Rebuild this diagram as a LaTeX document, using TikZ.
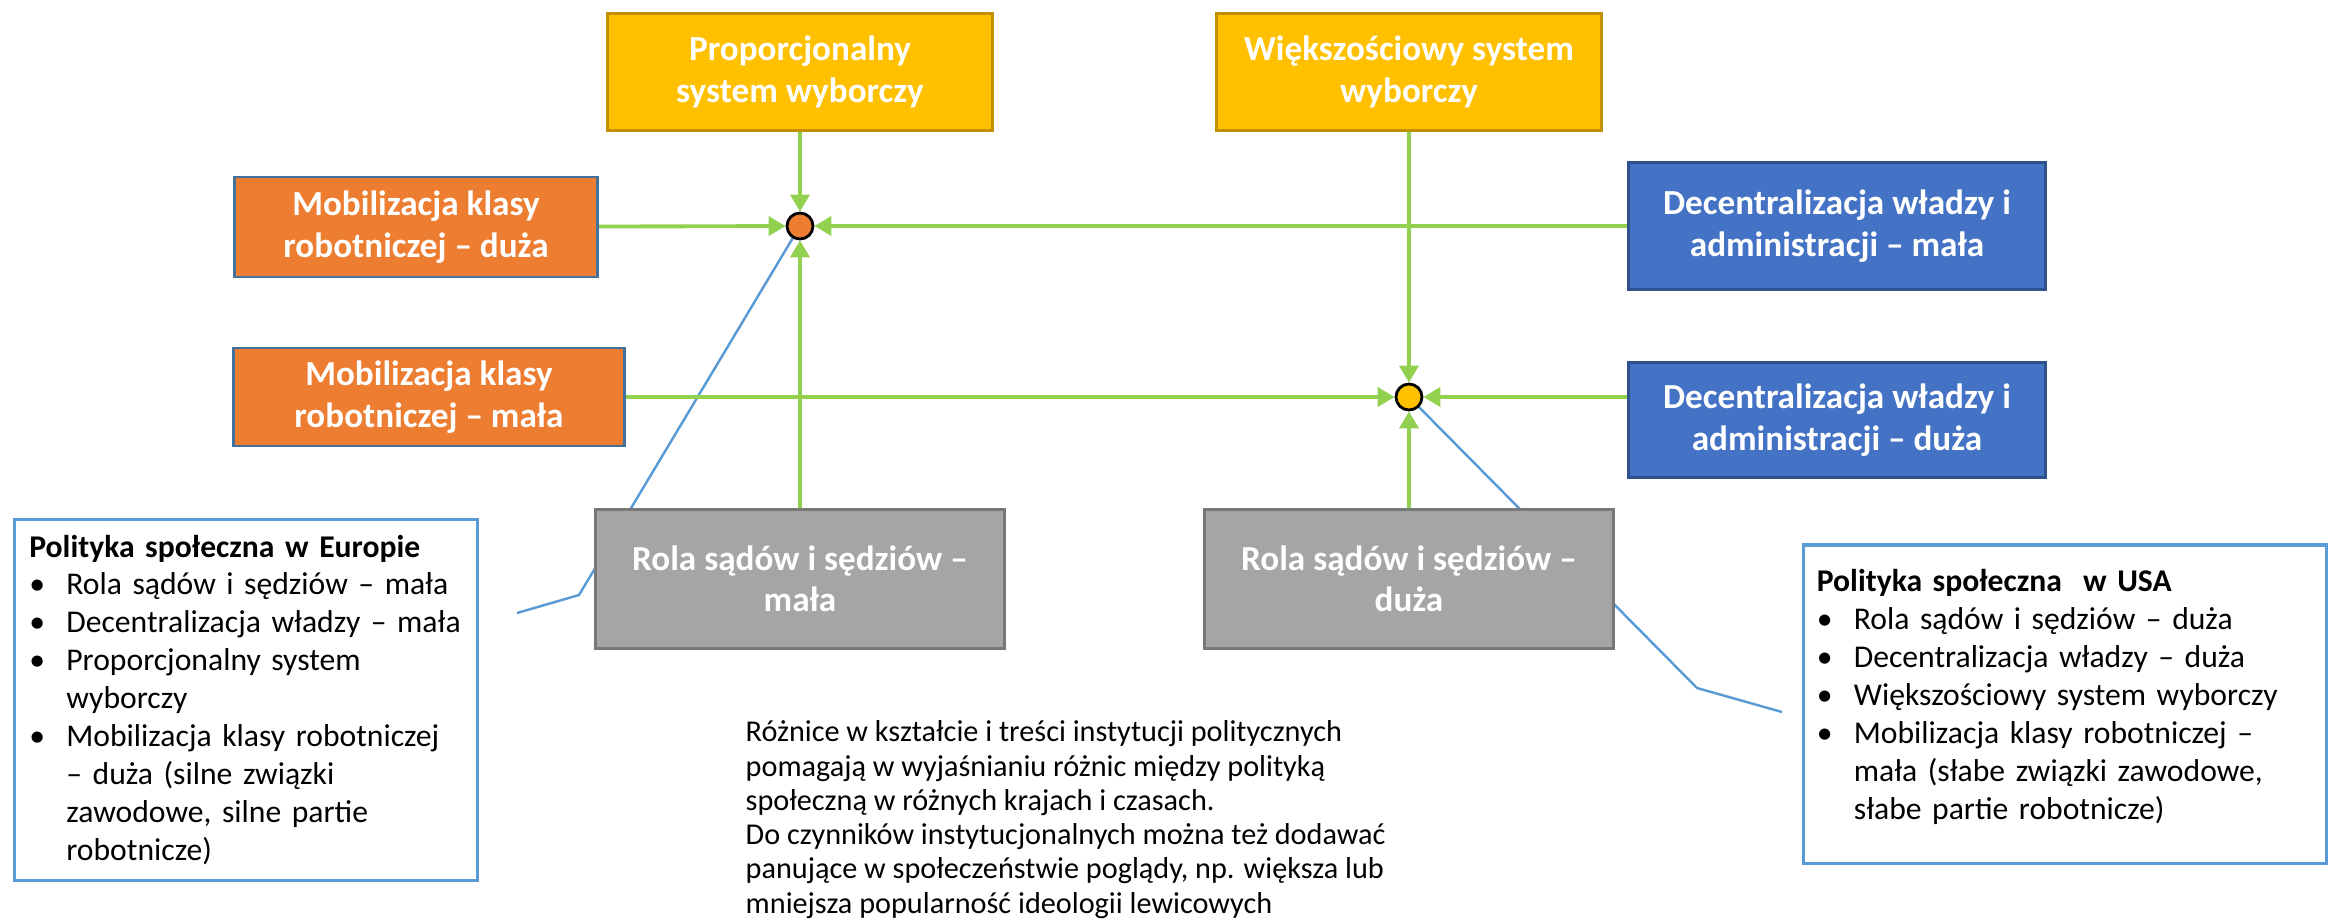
\documentclass[tikz,border=0pt]{standalone}
\usepackage{fontspec}
\setmainfont{Carlito}
\usetikzlibrary{arrows.meta,positioning,backgrounds}

\definecolor{electFill}{HTML}{FFC000}
\definecolor{electLine}{HTML}{BF9000}
\definecolor{mobilFill}{HTML}{ED7D31}
\definecolor{mobilLine}{HTML}{41719C}
\definecolor{decentFill}{HTML}{4472C4}
\definecolor{decentLine}{HTML}{2F528F}
\definecolor{courtFill}{HTML}{A5A5A5}
\definecolor{courtLine}{HTML}{787878}
\definecolor{linkGreen}{HTML}{92D050}
\definecolor{calloutBlue}{HTML}{5B9BD5}

\newlength{\bulletIndent}
\setlength{\bulletIndent}{0.37cm}
\newcommand{\bulletItem}[1]{\par\noindent\hangindent=\bulletIndent\hangafter=1\makebox[\bulletIndent][l]{\textbullet}#1}

\begin{document}
\begin{tikzpicture}[x=0.01cm,y=-0.01cm,>={Triangle[length=0.17cm,width=0.19cm]},auto]
  \useasboundingbox (0,0) rectangle (2341,920);
  \tikzset{
    factor/.style={rectangle,line width=0.8pt,text=white,align=center,inner sep=0pt,
      font=\fontsize{10}{11.8}\selectfont\bfseries},
    electoral/.style={factor,fill=electFill,draw=electLine,minimum width=3.85cm,minimum height=1.17cm},
    mobil/.style={factor,fill=mobilFill,draw=mobilLine,minimum height=1cm},
    decent/.style={factor,fill=decentFill,draw=decentLine,minimum width=4.16cm},
    court/.style={factor,fill=courtFill,draw=courtLine,minimum width=4.08cm,minimum height=1.39cm},
    junction/.style={circle,draw=black,line width=0.8pt,minimum size=0.26cm,inner sep=0pt},
    % edge styles
    post/.style={->,draw=linkGreen,line width=1.1pt},
    callout/.style={draw=calloutBlue,line width=0.7pt},
    % text styles
    summary/.style={rectangle,draw=calloutBlue,line width=0.9pt,fill=white,
      font=\fontsize{9}{10.8}\selectfont},
    remark/.style={align=left,inner sep=0pt,font=\fontsize{8.6}{9.75}\selectfont}
  }

  % Junctions
  \node [junction,fill=mobilFill] (dotEU) at (800,226) {};
  \node [junction,fill=electFill] (dotUS) at (1409,397) {};

  % Electoral systems
  \node [electoral] (prop) at (800,72)  {Proporcjonalny\\system wyborczy}
  edge [post] (dotEU);
  \node [electoral] (major) at (1409,72) {Większościowy system\\wyborczy}
  edge [post] (dotUS);

  % Working class
  \node [mobil,minimum width=3.63cm] (mobBig) at (416,227) {Mobilizacja klasy\\robotniczej – duża}
  edge [post] (dotEU);
  \node [mobil,minimum width=3.9cm,minimum height=0.98cm] (mobSmall) at (429,397) {Mobilizacja klasy\\robotniczej – mała}
  edge [post] (dotUS);

  % Decentralisation
  \node [decent,minimum height=1.27cm] (decSmall) at (1837,226) {Decentralizacja władzy i\\administracji – mała}
  edge [post] (dotEU);
  \node [decent,minimum height=1.15cm] (decBig) at (1837,420) {Decentralizacja władzy i\\administracji – duża};
  \draw [post] (decBig.west |- dotUS) -- (dotUS);

  % Courts
  \node [court] (courtSmall) at (800,579) {Rola sądów i sędziów –\\mała}
  edge [post] (dotEU);
  \node [court] (courtBig) at (1409,579) {Rola sądów i sędziów –\\duża}
  edge [post] (dotUS);

  % Summaries
  \node [summary,minimum width=4.63cm,minimum height=3.61cm,text width=4.33cm,inner xsep=0.15cm] (europe) at (246,700)
    {\raggedright\textbf{Polityka społeczna w Europie}
     \bulletItem{Rola sądów i sędziów – mała}
     \bulletItem{Decentralizacja władzy – mała}
     \bulletItem{Proporcjonalny system\newline wyborczy}
     \bulletItem{Mobilizacja klasy robotniczej\newline – duża (silne związki\newline zawodowe, silne partie\newline robotnicze)}\par};
  \node [summary,minimum width=5.22cm,minimum height=3.18cm,text width=4.96cm,inner xsep=0.13cm] (usa) at (2065,704)
    {\raggedright\textbf{Polityka społeczna\ \ w USA}
     \bulletItem{Rola sądów i sędziów – duża}
     \bulletItem{Decentralizacja władzy – duża}
     \bulletItem{Większościowy system wyborczy}
     \bulletItem{Mobilizacja klasy robotniczej –\newline mała (słabe związki zawodowe,\newline słabe partie robotnicze)}\par
     \kern-0.18cm\hbox{}};

  \node [remark,anchor=north west] (note) at (745,720)
    {Różnice w kształcie i treści instytucji politycznych\\
     pomagają w wyjaśnianiu różnic między polityką\\
     społeczną w różnych krajach i czasach.\\
     Do czynników instytucjonalnych można też dodawać\\
     panujące w społeczeństwie poglądy, np. większa lub\\
     mniejsza popularność ideologii lewicowych};

  % Callout pointers
  \coordinate (euBend) at (579,595);
  \coordinate (euEnd) at (517,613);
  \coordinate (usBend) at (1697,688);
  \coordinate (usEnd) at (1782,712);
  \begin{scope}[on background layer]
    \draw [callout] (dotEU.center) -- (euBend) -- (euEnd);
    \draw [callout] (dotUS.center) -- (usBend) -- (usEnd);
  \end{scope}
\end{tikzpicture}
\end{document}
